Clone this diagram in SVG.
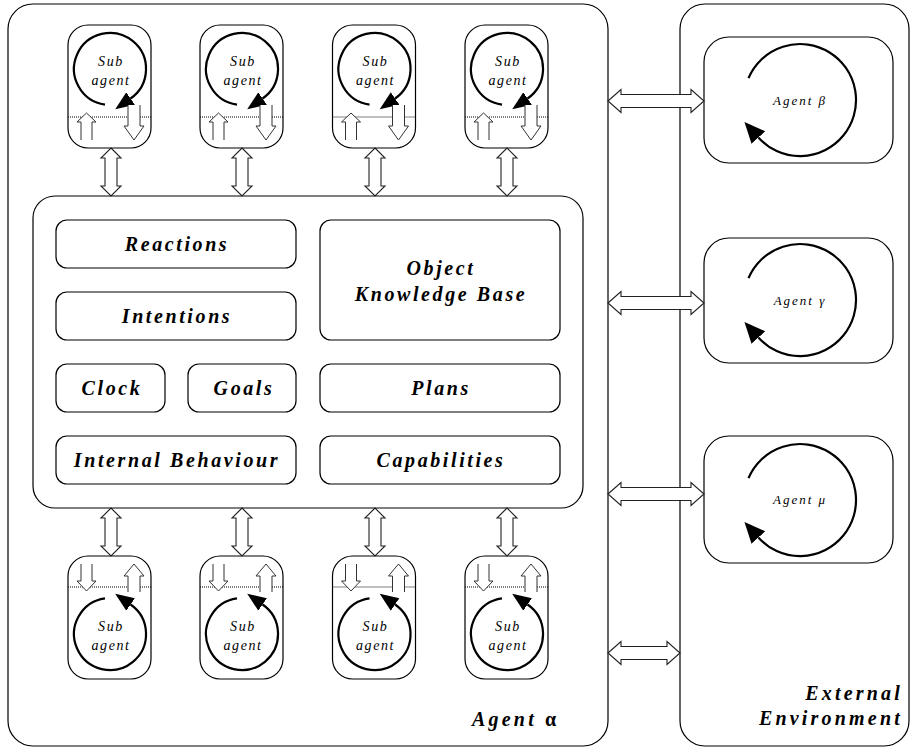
<svg xmlns="http://www.w3.org/2000/svg" width="911" height="747" viewBox="0 0 911 747">
<style>
.frame{fill:none;stroke:#000;stroke-width:1.2}
.box{fill:#fff;stroke:#000;stroke-width:1.2}
.dot{stroke:#000;stroke-width:1;stroke-dasharray:1,1}
.loop{fill:none;stroke:#000;stroke-width:2.2}
.harr{fill:#fff;stroke:#222;stroke-width:1.1}
.sarr{fill:#fff;stroke:#333;stroke-width:1}
.lbl{font-family:"Liberation Serif",serif;font-style:italic;font-weight:bold;font-size:20px;letter-spacing:2.6px;text-anchor:middle;fill:#000}
.sub{font-family:"Liberation Serif",serif;font-style:italic;font-size:14px;letter-spacing:1.6px;text-anchor:middle;fill:#000}
.ag{font-family:"Liberation Serif",serif;font-style:italic;font-size:13px;letter-spacing:2px;text-anchor:middle;fill:#000}
.big{font-family:"Liberation Serif",serif;font-style:italic;font-weight:bold;font-size:20px;letter-spacing:3.2px;fill:#000}
</style>
<defs>
<marker id="ahS" markerUnits="userSpaceOnUse" markerWidth="20" markerHeight="20" refX="0" refY="0" viewBox="0 -8 16 16" orient="auto"><path d="M0,-6 L15,0 L0,6 Z" fill="#000"/></marker>
<marker id="ahL" markerUnits="userSpaceOnUse" markerWidth="22" markerHeight="22" refX="0" refY="0" viewBox="0 -9 19 18" orient="auto"><path d="M0,-8 L18,0 L0,8 Z" fill="#000"/></marker>
<g id="subTop">
<rect class="box" x="-42" y="25" width="83" height="123" rx="20"/>
<line class="dot" x1="-42" y1="117" x2="41" y2="117"/>
<path class="loop" d="M-5,104.6 A36,36 0 1 1 20.6,98.5" marker-end="url(#ahS)"/>
<polyline class="sarr" points="-29,140 -29,122 -33,122 -23.5,113 -14,122 -18,122 -18,140"/>
<polyline class="sarr" points="18,105 18,126 14,126 24,140 34,126 30,126 30,105"/>
</g>
<g id="subBot">
<rect class="box" x="-42" y="556" width="83" height="123" rx="20"/>
<line class="dot" x1="-42" y1="587" x2="41" y2="587"/>
<path class="loop" d="M-5,598.4 A36,36 0 1 0 20.6,604.5" marker-end="url(#ahS)"/>
<polyline class="sarr" points="-29,564 -29,581 -33,581 -23.5,591 -14,581 -18,581 -18,564"/>
<polyline class="sarr" points="18,592 18,576 14,576 24,564 34,576 30,576 30,592"/>
</g>
<path id="vdbl" class="harr" d="M0,0 L10,10 L6,10 L6,38 L10,38 L0,48 L-10,38 L-6,38 L-6,10 L-10,10 Z"/>
</defs>

<g id="agent-alpha">
<rect class="frame" x="8" y="4" width="600" height="742" rx="25"/>
<text class="big" x="472" y="726">Agent <tspan font-style="normal">α</tspan></text>
</g>

<g id="external-environment">
<rect class="frame" x="680" y="4" width="229" height="742" rx="25"/>
<text class="big" x="903" y="700" text-anchor="end">External</text>
<text class="big" x="903" y="725" text-anchor="end">Environment</text>
</g>

<g id="core">
<rect class="box" x="33" y="196" width="550" height="312" rx="22"/>
</g>
<g id="reactions"><rect class="box" x="56" y="220" width="240" height="48" rx="11"/><text class="lbl" x="177" y="251">Reactions</text></g>
<g id="intentions"><rect class="box" x="56" y="292" width="240" height="48" rx="11"/><text class="lbl" x="177" y="323">Intentions</text></g>
<g id="okb"><rect class="box" x="320" y="220" width="240" height="120" rx="11"/><text class="lbl" x="441" y="275">Object</text><text class="lbl" x="441" y="301">Knowledge Base</text></g>
<g id="clock"><rect class="box" x="56" y="364" width="109" height="48" rx="11"/><text class="lbl" x="112" y="395">Clock</text></g>
<g id="goals"><rect class="box" x="188" y="364" width="108" height="48" rx="11"/><text class="lbl" x="244" y="395">Goals</text></g>
<g id="plans"><rect class="box" x="320" y="364" width="240" height="48" rx="11"/><text class="lbl" x="441" y="395">Plans</text></g>
<g id="internal-behaviour"><rect class="box" x="56" y="436" width="240" height="48" rx="11"/><text class="lbl" x="177" y="467">Internal Behaviour</text></g>
<g id="capabilities"><rect class="box" x="320" y="436" width="240" height="48" rx="11"/><text class="lbl" x="441" y="467">Capabilities</text></g>

<g id="subagent-top-1"><use href="#subTop" x="110"/><text class="sub" x="111" y="66">Sub</text><text class="sub" x="111" y="85">agent</text></g>
<g id="subagent-top-2"><use href="#subTop" x="242"/><text class="sub" x="243" y="66">Sub</text><text class="sub" x="243" y="85">agent</text></g>
<g id="subagent-top-3"><use href="#subTop" x="374.5"/><text class="sub" x="375.5" y="66">Sub</text><text class="sub" x="375.5" y="85">agent</text></g>
<g id="subagent-top-4"><use href="#subTop" x="507"/><text class="sub" x="508" y="66">Sub</text><text class="sub" x="508" y="85">agent</text></g>

<g id="subagent-bot-1"><use href="#subBot" x="110"/><text class="sub" x="111" y="631">Sub</text><text class="sub" x="111" y="650">agent</text></g>
<g id="subagent-bot-2"><use href="#subBot" x="242"/><text class="sub" x="243" y="631">Sub</text><text class="sub" x="243" y="650">agent</text></g>
<g id="subagent-bot-3"><use href="#subBot" x="374.5"/><text class="sub" x="375.5" y="631">Sub</text><text class="sub" x="375.5" y="650">agent</text></g>
<g id="subagent-bot-4"><use href="#subBot" x="507"/><text class="sub" x="508" y="631">Sub</text><text class="sub" x="508" y="650">agent</text></g>

<g id="agent-beta">
<rect class="box" x="704" y="37" width="189" height="126" rx="25"/>
<path class="loop" d="M748.5,78.1 A56,56 0 1 1 758.4,137.5" marker-end="url(#ahL)"/>
<text class="ag" x="800" y="105">Agent β</text>
</g>
<g id="agent-gamma">
<rect class="box" x="704" y="238" width="189" height="125" rx="25"/>
<path class="loop" d="M748.5,278.1 A56,56 0 1 1 758.4,337.5" marker-end="url(#ahL)"/>
<text class="ag" x="800" y="305">Agent γ</text>
</g>
<g id="agent-mu">
<rect class="box" x="704" y="436" width="189" height="127" rx="25"/>
<path class="loop" d="M748.5,478.1 A56,56 0 1 1 758.4,537.5" marker-end="url(#ahL)"/>
<text class="ag" x="800" y="504">Agent μ</text>
</g>

<g id="connectors">
<use href="#vdbl" x="111" y="148"/>
<use href="#vdbl" x="242" y="148"/>
<use href="#vdbl" x="375" y="148"/>
<use href="#vdbl" x="507" y="148"/>
<use href="#vdbl" x="111" y="508"/>
<use href="#vdbl" x="242" y="508"/>
<use href="#vdbl" x="375" y="508"/>
<use href="#vdbl" x="507" y="508"/>
<path class="harr" d="M608,101 L621,89.5 L621,94.5 L691,94.5 L691,89.5 L704,101 L691,112.5 L691,107.5 L621,107.5 L621,112.5 Z"/>
<path class="harr" d="M608,303 L621,291.5 L621,296.5 L691,296.5 L691,291.5 L704,303 L691,314.5 L691,309.5 L621,309.5 L621,314.5 Z"/>
<path class="harr" d="M608,494 L621,482.5 L621,487.5 L691,487.5 L691,482.5 L704,494 L691,505.5 L691,500.5 L621,500.5 L621,505.5 Z"/>
<path class="harr" d="M608,653 L621,641.5 L621,646.5 L667,646.5 L667,641.5 L680,653 L667,664.5 L667,659.5 L621,659.5 L621,664.5 Z"/>
</g>
</svg>
